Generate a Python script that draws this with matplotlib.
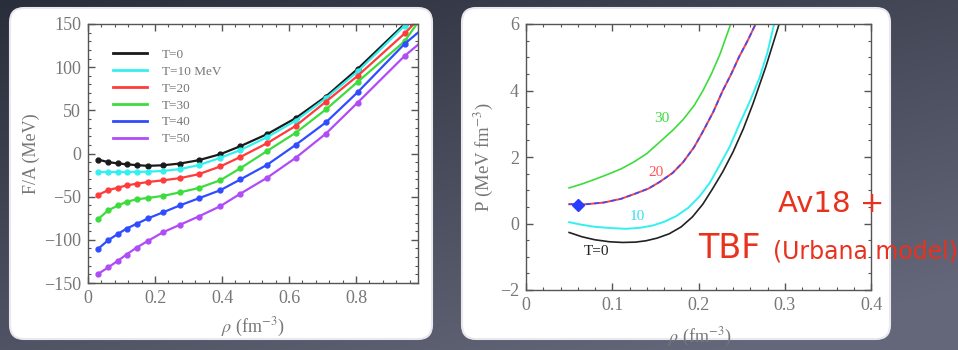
import numpy as np
import matplotlib
matplotlib.use("Agg")
import matplotlib.pyplot as plt
from matplotlib.patches import FancyBboxPatch
from matplotlib.ticker import MultipleLocator

plt.rcParams["font.family"] = ["Liberation Serif", "DejaVu Serif"]
plt.rcParams["mathtext.fontset"] = "stix"

# ============================================================
# DATA - left panel: free energy per nucleon F/A (MeV) vs density
# ============================================================

rho_left = [0.03, 0.06, 0.09, 0.115, 0.145, 0.18, 0.225, 0.275, 0.33,
            0.395, 0.455, 0.535, 0.62, 0.71, 0.805, 0.945, 0.985]

fa_t0 = [-7, -10, -11.5, -12.5, -13.5, -14.3, -13.6, -11.6, -7.8,
         -0.8, 8.5, 22.5, 41, 66, 98, 150, 166]
fa_t10 = [-21.5, -21.5, -21.5, -21.5, -21.3, -21, -20.2, -18, -13.5,
          -5, 4, 19, 38, 64, 95, 148, 164]
fa_t20 = [-48, -42.5, -39.5, -37, -35, -33, -31, -28.5, -24,
          -15, -4, 12, 32, 60, 90, 139, 155]
fa_t30 = [-76, -66, -60, -56, -53, -51.5, -49, -45, -40,
          -31, -17, 3, 24, 51, 83, 130, 152]
fa_t40 = [-110.5, -100.5, -93, -87, -81.5, -75, -68, -60, -52,
          -42.5, -30, -13, 10, 36, 71, 127, 140]
fa_t50 = [-139.5, -132, -124, -117, -109, -101, -91, -82.5, -73,
          -61, -46.5, -28, -5, 23, 59, 113, 126]

left_labels = ["T=0", "T=10 MeV", "T=20", "T=30", "T=40", "T=50"]
left_colors = ["#1a1a1a", "#33f0f0", "#ff3b3b", "#3ddc3d", "#2f4cff", "#b04cf5"]

# ============================================================
# DATA - right panel: pressure P (MeV fm^-3) vs density
# ============================================================

rho_p30 = [0.05, 0.065, 0.08, 0.095, 0.11, 0.125, 0.14, 0.155, 0.17,
           0.182, 0.195, 0.205, 0.215, 0.225, 0.239]
p_t30 = [1.07, 1.19, 1.33, 1.48, 1.64, 1.85, 2.1, 2.45, 2.8,
         3.12, 3.55, 3.99, 4.5, 5.1, 6.12]

rho_p20 = [0.05, 0.07, 0.09, 0.11, 0.128, 0.142, 0.155, 0.17, 0.182,
           0.195, 0.205, 0.217, 0.228, 0.238, 0.247, 0.257, 0.267]
p_t20 = [0.58, 0.58, 0.63, 0.74, 0.91, 1.05, 1.25, 1.52, 1.84,
         2.3, 2.76, 3.35, 3.99, 4.5, 5.01, 5.5, 6.04]

rho_p10 = [0.05, 0.065, 0.08, 0.1, 0.116, 0.132, 0.147, 0.16, 0.174, 0.188,
           0.201, 0.213, 0.224, 0.236, 0.247, 0.26, 0.271, 0.28, 0.288]
p_t10 = [0.04, -0.04, -0.1, -0.14, -0.16, -0.13, -0.06, 0.05, 0.22, 0.47,
         0.81, 1.22, 1.73, 2.3, 2.96, 3.7, 4.4, 5.15, 6.04]

rho_p0 = [0.05, 0.065, 0.08, 0.097, 0.112, 0.127, 0.139, 0.152, 0.166, 0.18,
          0.193, 0.205, 0.216, 0.228, 0.24, 0.252, 0.263, 0.278, 0.294]
p_t0 = [-0.27, -0.4, -0.49, -0.55, -0.57, -0.56, -0.52, -0.44, -0.31, -0.1,
        0.2, 0.58, 1.03, 1.55, 2.15, 2.85, 3.59, 4.71, 6.04]

crit_rho = [0.06]
crit_p = [0.56]

curve_labels = ["30", "20", "10", "T=0"]
label_rho = [0.158, 0.151, 0.129, 0.082]
label_p = [3.17, 1.53, 0.2, -0.83]
label_colors = ["#3ddc3d", "#ff5555", "#33e0f0", "#222222"]

# ============================================================
# FIGURE + BACKGROUND
# ============================================================

fig = plt.figure(figsize=(9.58, 3.5), dpi=100)

bg_ax = fig.add_axes([0, 0, 1, 1], zorder=-10)
h, w = 350, 958
yy, xx = np.mgrid[0:h, 0:w]
t = np.clip(0.65 * yy / h + 0.45 * xx / w, 0, 1)[..., None]
c0 = np.array([0x2a, 0x2d, 0x3a]) / 255
c1 = np.array([0x64, 0x68, 0x7a]) / 255
bg_ax.imshow(c0 + (c1 - c0) * t, aspect="auto", extent=[0, 1, 0, 1])
bg_ax.axis("off")

# white rounded panels (inches, origin bottom-left)
for x0, wid in [(0.10, 4.22), (4.62, 4.28)]:
    fig.patches.append(FancyBboxPatch(
        (x0, 0.11), wid, 3.31,
        boxstyle="round,pad=0,rounding_size=0.14",
        transform=fig.dpi_scale_trans, facecolor="white",
        edgecolor="#e8e8ee", linewidth=1.5, zorder=-5))

TICK_COLOR = "#777777"
SPINE_COLOR = "#555555"


def style_axes(ax):
    for s in ax.spines.values():
        s.set_color(SPINE_COLOR)
        s.set_linewidth(1.0)
    ax.tick_params(which="both", direction="in", top=True, right=True,
                   colors=SPINE_COLOR, labelcolor=TICK_COLOR, labelsize=13)
    ax.tick_params(which="major", length=5, width=1, pad=5)
    ax.tick_params(which="minor", length=2.5, width=0.8)


# ============================================================
# LEFT PANEL
# ============================================================

ax1 = fig.add_axes([88 / 958, 1 - 283 / 350, 330 / 958, 259 / 350])
left_series = [fa_t0, fa_t10, fa_t20, fa_t30, fa_t40, fa_t50]
for vals, lab, col in zip(left_series, left_labels, left_colors):
    ax1.plot(rho_left, vals, color=col, lw=1.6, label=lab,
             marker="o", ms=3.5, markevery=slice(0, -1))

ax1.set_xlim(0, 0.985)
ax1.set_ylim(-150, 150)
ax1.xaxis.set_major_locator(MultipleLocator(0.2))
ax1.xaxis.set_minor_locator(MultipleLocator(0.04))
ax1.yaxis.set_major_locator(MultipleLocator(50))
ax1.yaxis.set_minor_locator(MultipleLocator(10))
ax1.set_xticks([0, 0.2, 0.4, 0.6, 0.8])
ax1.set_xticklabels(["0", "0.2", "0.4", "0.6", "0.8"])
style_axes(ax1)

ax1.set_ylabel("F/A (MeV)", fontsize=13, color=TICK_COLOR)
ax1.yaxis.set_label_coords(-0.145, 0.5)
ax1.set_xlabel(r"$\rho$ (fm$^{-3}$)", fontsize=13, color=TICK_COLOR)
ax1.xaxis.set_label_coords(0.5, -0.125)

leg = ax1.legend(loc="upper left", bbox_to_anchor=(0.06, 0.925), frameon=False,
                 fontsize=9.5, handlelength=2.6, handletextpad=1.1,
                 labelspacing=0.35, borderaxespad=0)
for txt in leg.get_texts():
    txt.set_color("#777777")
for line in leg.get_lines():
    line.set_marker("")
    line.set_linewidth(2)

# ============================================================
# RIGHT PANEL
# ============================================================

ax2 = fig.add_axes([526 / 958, 1 - 290 / 350, 345 / 958, 266 / 350])
ax2.plot(rho_p30, p_t30, color="#3ddc3d", lw=1.2)
ax2.plot(rho_p20, p_t20, color="#ff4040", lw=1.4)
ax2.plot(rho_p20, p_t20, color="#3a4cff", lw=1.2, ls=(0, (3, 2)))
ax2.plot(rho_p10, p_t10, color="#33f0f0", lw=1.4)
ax2.plot(rho_p0, p_t0, color="#222222", lw=1.2)
ax2.plot(crit_rho, crit_p, marker="D", ms=6.5, color="#2a3cff", ls="none")

for lab, x, y, col in zip(curve_labels, label_rho, label_p, label_colors):
    ax2.text(x, y, lab, color=col, fontsize=11, ha="center", va="center")

ax2.set_xlim(0, 0.4)
ax2.set_ylim(-2, 6)
ax2.xaxis.set_major_locator(MultipleLocator(0.1))
ax2.xaxis.set_minor_locator(MultipleLocator(0.02))
ax2.yaxis.set_major_locator(MultipleLocator(2))
ax2.yaxis.set_minor_locator(MultipleLocator(0.5))
ax2.set_xticks([0, 0.1, 0.2, 0.3, 0.4])
ax2.set_xticklabels(["0", "0.1", "0.2", "0.3", "0.4"])
style_axes(ax2)

ax2.set_ylabel(r"P (MeV fm$^{-3}$)", fontsize=13.5, color=TICK_COLOR)
ax2.yaxis.set_label_coords(-0.09, 0.5)
ax2.set_xlabel(r"$\rho$ (fm$^{-3}$)", fontsize=13, color=TICK_COLOR)
ax2.xaxis.set_label_coords(0.504, -0.135)

# ============================================================
# ANNOTATION TEXT
# ============================================================

RED = "#e8321e"
fig.text(778 / 958, 1 - 212 / 350, "Av18 +", color=RED, fontsize=21,
         family="DejaVu Sans", va="baseline", ha="left", zorder=20)
fig.text(698 / 958, 1 - 258 / 350, "TBF", color=RED, fontsize=24,
         family="DejaVu Sans", va="baseline", ha="left", zorder=20)
fig.text(773 / 958, 1 - 258 / 350, "(Urbana model)", color=RED, fontsize=17,
         family="DejaVu Sans", va="baseline", ha="left", zorder=20)

fig.savefig("out.png", dpi=100)
